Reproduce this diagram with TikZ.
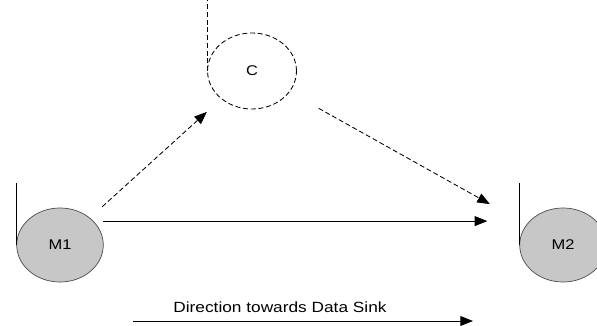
\documentclass[tikz,border=0pt]{standalone}
\usepackage{fontspec}
\setmainfont{Liberation Sans}
\usetikzlibrary{arrows.meta}

\begin{document}
\begin{tikzpicture}[x=0.025cm,y=-0.025cm,line join=round,line width=0.6pt,
	>={Triangle[length=9pt,width=7pt]},
	font=\fontsize{10}{12}\selectfont,
	wide/.style={xscale=1.17,transform shape},
	mote/.style={wide,circle,draw=black!70,fill=black!22,line width=0.5pt,
		minimum size=1.85cm,inner sep=0pt,outer sep=0pt},
	head/.style={wide,circle,draw,dashed,minimum size=1.9cm,inner sep=0pt,outer sep=0pt},
	dsh/.style={dash pattern=on 3.5pt off 2pt}]
	\clip (0,0) rectangle (597,326);
	\node[mote] (M1) at (60,245) {M1};
	\node[mote] (M2) at (563,245) {M2};
	\node[head,dsh] (C) at (252,71) {C};
	%cột
	\draw (M1.west) -- ++(0,-62);
	\draw (M2.west) -- ++(0,-62);
	\draw[dsh] (C.west) -- ++(0,-71);
	%liên kết
	\draw[dsh,->,shorten <=12pt,shorten >=14pt] (M1) -- (C);
	\draw[dsh,->,shorten <=24pt,shorten >=30pt] (C) -- (M2);
	\draw[->,shorten >=23pt] ([yshift=17pt]M1.east) -- ([yshift=17pt]M2.west);
	%hướng
	\node[wide,font=\fontsize{10.5}{12}\selectfont] (dir) at (280,307) {Direction towards Data Sink};
	\coordinate (dirL) at (133,321);
	\coordinate (dirR) at (473,321);
	\draw[->] (dirL) -- (dirR);
\end{tikzpicture}
\end{document}
